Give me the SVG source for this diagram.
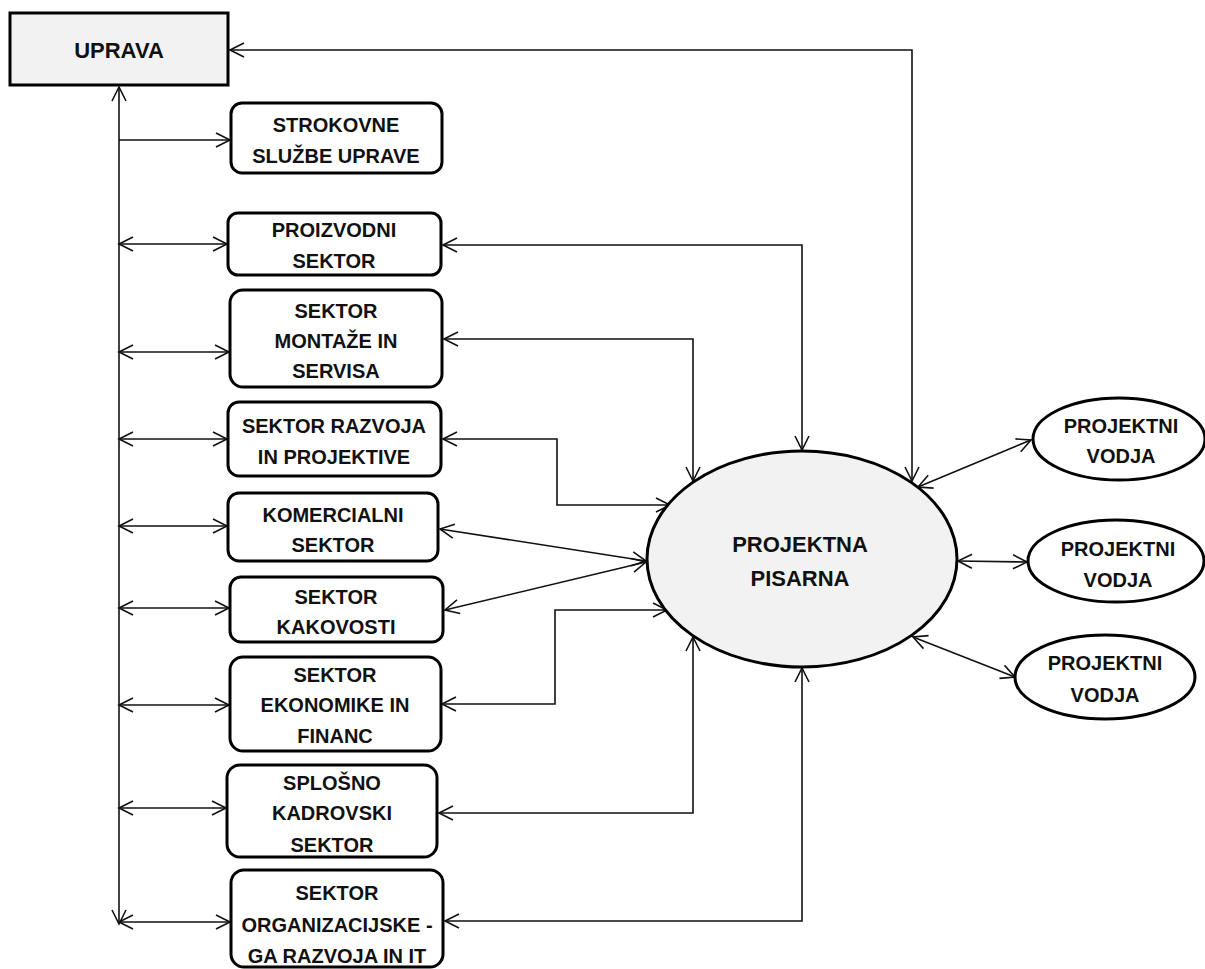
<svg xmlns="http://www.w3.org/2000/svg" width="1205" height="969" viewBox="0 0 1205 969">
  <style>
    .box { fill: #ffffff; stroke: #000000; stroke-width: 3; }
    .main { fill: #f2f2f2; stroke: #000000; stroke-width: 3; }
    .oval { fill: #ffffff; stroke: #000000; stroke-width: 3; }
    .lbl { font-family: "Liberation Sans", Arial, sans-serif; font-weight: bold; font-size: 20px; fill: #111111; text-anchor: middle; }
    .big { font-size: 22px; }
    .wire { fill: none; stroke: #111111; stroke-width: 1.6; }
    .both { marker-start: url(#head); marker-end: url(#head); }
    .fwd { marker-end: url(#head); }
  </style>
  <defs>
    <marker id="head" viewBox="-16 -9 18 18" refX="0" refY="0" markerWidth="18" markerHeight="18" markerUnits="userSpaceOnUse" orient="auto-start-reverse">
      <path d="M-14,-7 L0,0 L-14,7" fill="none" stroke="#111111" stroke-width="1.6"/>
    </marker>
  </defs>

  <rect width="1205" height="969" fill="#ffffff"/>

  <!-- connectors -->
  <g id="connectors">
    <!-- management trunk -->
    <line class="wire both" x1="119" y1="87" x2="119" y2="924"/>
    <line class="wire fwd" x1="119" y1="140" x2="230" y2="140"/>
    <line class="wire both" x1="119" y1="244" x2="227" y2="244"/>
    <line class="wire both" x1="119" y1="352" x2="229" y2="352"/>
    <line class="wire both" x1="119" y1="439" x2="227" y2="439"/>
    <line class="wire both" x1="119" y1="526" x2="227" y2="526"/>
    <line class="wire both" x1="119" y1="608" x2="229" y2="608"/>
    <line class="wire both" x1="119" y1="705" x2="229" y2="705"/>
    <line class="wire both" x1="119" y1="808" x2="226" y2="808"/>
    <line class="wire both" x1="119" y1="922" x2="230" y2="922"/>

    <!-- sectors to project office -->
    <polyline class="wire both" points="443,245 802,245 802,450"/>
    <polyline class="wire both" points="444,339 693,339 693,481"/>
    <polyline class="wire both" points="443,439 557,439 557,505 670,505"/>
    <line class="wire both" x1="440" y1="529" x2="646" y2="561"/>
    <line class="wire both" x1="445" y1="610" x2="646" y2="562"/>
    <polyline class="wire both" points="442,704 555,704 555,610 667,610"/>
    <polyline class="wire both" points="439,813 693,813 693,637"/>
    <polyline class="wire both" points="445,921 802,921 802,668"/>

    <!-- management to project office -->
    <polyline class="wire both" points="230,50 912,50 912,481"/>

    <!-- project office to project leaders -->
    <line class="wire both" x1="918" y1="487" x2="1031" y2="440"/>
    <line class="wire both" x1="958" y1="561" x2="1027" y2="562"/>
    <line class="wire both" x1="913" y1="637" x2="1015" y2="677"/>
  </g>

  <g id="uprava">
    <rect class="main" x="10" y="13" width="218" height="72"/>
    <text class="lbl big" x="119" y="58">UPRAVA</text>
  </g>

  <g id="strokovne-sluzbe">
    <rect class="box" x="231" y="103" width="211" height="70" rx="11"/>
    <text class="lbl" x="336" y="132">STROKOVNE</text>
    <text class="lbl" x="336" y="163">SLUŽBE UPRAVE</text>
  </g>

  <g id="proizvodni-sektor">
    <rect class="box" x="228" y="213" width="213" height="62" rx="10"/>
    <text class="lbl" x="334" y="237">PROIZVODNI</text>
    <text class="lbl" x="334" y="268">SEKTOR</text>
  </g>

  <g id="sektor-montaze">
    <rect class="box" x="230" y="290" width="212" height="97" rx="13"/>
    <text class="lbl" x="336" y="318">SEKTOR</text>
    <text class="lbl" x="336" y="348">MONTAŽE IN</text>
    <text class="lbl" x="336" y="378">SERVISA</text>
  </g>

  <g id="sektor-razvoja">
    <rect class="box" x="228" y="402" width="213" height="74" rx="11"/>
    <text class="lbl" x="334" y="433">SEKTOR RAZVOJA</text>
    <text class="lbl" x="334" y="464">IN PROJEKTIVE</text>
  </g>

  <g id="komercialni-sektor">
    <rect class="box" x="228" y="493" width="210" height="68" rx="11"/>
    <text class="lbl" x="333" y="522">KOMERCIALNI</text>
    <text class="lbl" x="333" y="552">SEKTOR</text>
  </g>

  <g id="sektor-kakovosti">
    <rect class="box" x="230" y="577" width="213" height="65" rx="11"/>
    <text class="lbl" x="336" y="604">SEKTOR</text>
    <text class="lbl" x="336" y="634">KAKOVOSTI</text>
  </g>

  <g id="sektor-ekonomike">
    <rect class="box" x="230" y="657" width="211" height="94" rx="13"/>
    <text class="lbl" x="335" y="682">SEKTOR</text>
    <text class="lbl" x="335" y="712">EKONOMIKE IN</text>
    <text class="lbl" x="335" y="743">FINANC</text>
  </g>

  <g id="splosno-kadrovski">
    <rect class="box" x="227" y="765" width="210" height="92" rx="13"/>
    <text class="lbl" x="332" y="790">SPLOŠNO</text>
    <text class="lbl" x="332" y="820">KADROVSKI</text>
    <text class="lbl" x="332" y="852">SEKTOR</text>
  </g>

  <g id="sektor-organizacije">
    <rect class="box" x="231" y="870" width="212" height="97" rx="13"/>
    <text class="lbl" x="337" y="900">SEKTOR</text>
    <text class="lbl" x="337" y="932">ORGANIZACIJSKE -</text>
    <text class="lbl" x="337" y="963">GA RAZVOJA IN IT</text>
  </g>

  <g id="projektna-pisarna">
    <ellipse class="main" cx="802" cy="559" rx="155" ry="108"/>
    <text class="lbl big" x="800" y="552">PROJEKTNA</text>
    <text class="lbl big" x="800" y="586">PISARNA</text>
  </g>

  <g id="projektni-vodja-1">
    <ellipse class="oval" cx="1119" cy="439" rx="86" ry="41"/>
    <text class="lbl" x="1121" y="433">PROJEKTNI</text>
    <text class="lbl" x="1121" y="463">VODJA</text>
  </g>

  <g id="projektni-vodja-2">
    <ellipse class="oval" cx="1116" cy="561" rx="88" ry="41"/>
    <text class="lbl" x="1118" y="556">PROJEKTNI</text>
    <text class="lbl" x="1118" y="587">VODJA</text>
  </g>

  <g id="projektni-vodja-3">
    <ellipse class="oval" cx="1105" cy="677" rx="90" ry="42"/>
    <text class="lbl" x="1105" y="670">PROJEKTNI</text>
    <text class="lbl" x="1105" y="702">VODJA</text>
  </g>
</svg>
